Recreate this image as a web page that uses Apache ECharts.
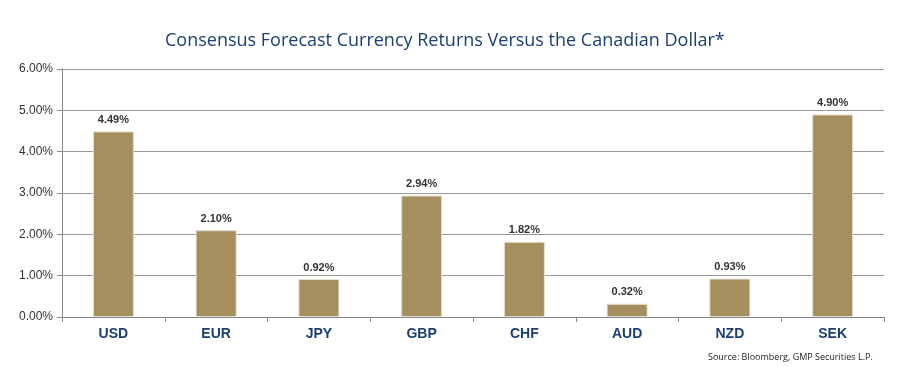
<!DOCTYPE html>
<html><head><meta charset="utf-8">
<script src="https://cdn.jsdelivr.net/npm/echarts@6/dist/echarts.min.js"></script>
<style>html,body{margin:0;padding:0;background:#fff}#c{width:905px;height:367px}</style>
</head><body><div id="c"></div>
<script>
var categories = ["USD","EUR","JPY","GBP","CHF","AUD","NZD","SEK"];
var returns = [4.49, 2.10, 0.92, 2.94, 1.82, 0.32, 0.93, 4.90];
var yTicks = [0, 1, 2, 3, 4, 5, 6];

var chart = echarts.init(document.getElementById('c'));
chart.setOption({
  animation: false,
  title: [{
    text: 'Consensus Forecast Currency Returns Versus the Canadian Dollar*',
    left: 160, top: 27,
    textStyle: {color: '#1b3f73', fontSize: 18, fontWeight: 500, fontFamily: '"Open Sans",sans-serif'}
  }, {
    text: 'Source: Bloomberg, GMP Securities L.P.',
    left: 703, top: 348,
    textStyle: {color: '#222', fontSize: 9, fontWeight: 'normal', fontFamily: '"Open Sans",sans-serif'}
  }],
  grid: {left: 62, right: 21, top: 69, bottom: 50},
  xAxis: {
    type: 'category', data: categories,
    axisLine: {lineStyle: {color: '#888', width: 1}},
    axisTick: {show: true, length: 5, lineStyle: {color: '#888'}},
    axisLabel: {color: '#1b3f73', fontWeight: 'bold', fontSize: 14, fontFamily: 'Arial, "Liberation Sans", sans-serif', margin: 10}
  },
  yAxis: {
    type: 'value', min: yTicks[0], max: yTicks[yTicks.length-1], interval: 1,
    axisLine: {show: true, lineStyle: {color: '#888'}},
    axisTick: {show: true, length: 5, lineStyle: {color: '#888'}},
    splitLine: {lineStyle: {color: '#999'}},
    axisLabel: {color: '#333', fontSize: 12, fontFamily: 'Arial, "Liberation Sans", sans-serif', margin: 9,
      formatter: function(v){ return v.toFixed(2) + '%'; }}
  },
  series: [{
    type: 'bar', data: returns, barWidth: 41,
    itemStyle: {color: '#a58f5f', borderColor: '#e6e0d0', borderWidth: 1},
    label: {show: true, position: 'top', distance: 6, color: '#333', fontWeight: 'bold', fontSize: 11,
      fontFamily: 'Arial, "Liberation Sans", sans-serif',
      formatter: function(p){ return p.value.toFixed(2) + '%'; }}
  }]
});
</script></body></html>
